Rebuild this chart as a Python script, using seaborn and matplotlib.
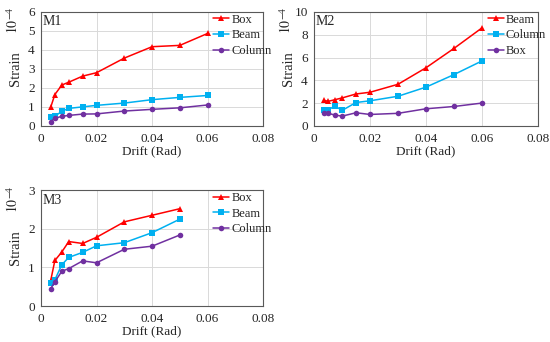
import pandas as pd
import seaborn as sns
import matplotlib.pyplot as plt

# ---------------------------------------------------------------
# Data (strain in 1e-4)
# ---------------------------------------------------------------
drift = [0.0035, 0.005, 0.0075, 0.01, 0.015, 0.02, 0.03, 0.04, 0.05, 0.06]

m1_box = [0.98, 1.65, 2.15, 2.3, 2.62, 2.8, 3.57, 4.17, 4.24, 4.87]
m1_beam = [0.45, 0.5, 0.77, 0.92, 1.0, 1.08, 1.2, 1.38, 1.5, 1.6]
m1_column = [0.22, 0.4, 0.5, 0.55, 0.62, 0.63, 0.78, 0.87, 0.95, 1.1]

m2_beam = [2.25, 2.15, 2.3, 2.45, 2.8, 2.95, 3.65, 5.1, 6.8, 8.6]
m2_column = [1.35, 1.4, 1.75, 1.35, 2.05, 2.2, 2.6, 3.4, 4.5, 5.7]
m2_box = [1.15, 1.1, 0.95, 0.85, 1.15, 1.0, 1.1, 1.5, 1.7, 2.0]

drift_m3 = drift[:9]
m3_box = [0.66, 1.18, 1.4, 1.67, 1.62, 1.78, 2.18, 2.35, 2.52]
m3_beam = [0.6, 0.68, 1.07, 1.26, 1.39, 1.56, 1.64, 1.9, 2.25]
m3_column = [0.45, 0.63, 0.9, 0.97, 1.17, 1.12, 1.47, 1.55, 1.84]

RED, BLUE, PURPLE = "#FF0000", "#00B0F0", "#7030A0"
MARKERS = ["^", "s", "o"]

sns.set_theme(style="whitegrid")
plt.rcParams["font.family"] = ["Liberation Serif", "DejaVu Serif"]
plt.rcParams["mathtext.fontset"] = "stix"


def long_df(x, series):
    rows = []
    for name, vals in series.items():
        for xi, yi in zip(x, vals):
            rows.append({"drift": xi, "strain": yi, "series": name})
    return pd.DataFrame(rows)


def panel(ax, x, series, ymax, ystep, tag):
    df = long_df(x, series)
    names = list(series.keys())
    sns.lineplot(data=df, x="drift", y="strain", hue="series", style="series",
                 hue_order=names, style_order=names,
                 palette=[RED, BLUE, PURPLE], markers=MARKERS, dashes=False,
                 markersize=4, linewidth=1.1, markeredgewidth=0, ax=ax)
    ax.set_xlim(0, 0.08)
    ax.set_ylim(0, ymax)
    ax.set_xticks([0, 0.02, 0.04, 0.06, 0.08])
    ax.set_xticklabels(["0", "0.02", "0.04", "0.06", "0.08"])
    ax.set_yticks(range(0, ymax + 1, ystep))
    ax.tick_params(labelsize=9.5, length=0)
    ax.tick_params(axis="x", pad=5)
    ax.tick_params(axis="y", pad=4.5)
    ax.grid(color="#d9d9d9", linewidth=0.7)
    for s in ax.spines.values():
        s.set_color("#595959")
        s.set_linewidth(0.8)
    ax.set_xlabel("Drift (Rad)", fontsize=9.5, labelpad=0)
    ax.set_ylabel("Strain", fontsize=10.5)
    # label anchor is the right edge of the rotated text
    ax.yaxis.set_label_coords(-0.085, 0.5)
    ax.text(0.005, 0.97, tag, transform=ax.transAxes, fontsize=10,
            va="top", ha="left")
    ax.annotate(r"$10^{-4}$", xy=(0, 1), xycoords="axes fraction",
                xytext=(-20, 3.5), textcoords="offset points", rotation=90,
                fontsize=10, va="top", ha="center")
    ax.legend(title=None, frameon=False, fontsize=9, loc="upper left",
              bbox_to_anchor=(0.775, 0.985), borderaxespad=0, borderpad=0,
              handlelength=1.3, handletextpad=0.15, labelspacing=0.3)


fig = plt.figure(figsize=(5.5, 3.42), dpi=100)
ax1 = fig.add_axes([0.0745, 0.632, 0.404, 0.333])
ax2 = fig.add_axes([0.571, 0.632, 0.407, 0.333])
ax3 = fig.add_axes([0.0745, 0.105, 0.404, 0.339])

panel(ax1, drift, {"Box": m1_box, "Beam": m1_beam, "Column": m1_column}, 6, 1, "M1")
panel(ax2, drift, {"Beam": m2_beam, "Column": m2_column, "Box": m2_box}, 10, 2, "M2")
panel(ax3, drift_m3, {"Box": m3_box, "Beam": m3_beam, "Column": m3_column}, 3, 1, "M3")

fig.savefig("out.png", dpi=100)
plt.close(fig)
